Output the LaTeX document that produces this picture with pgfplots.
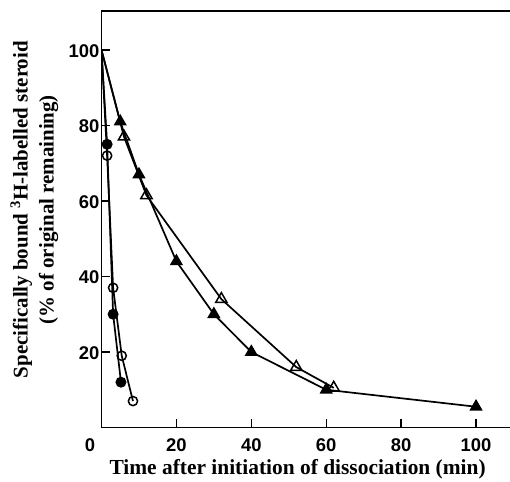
\documentclass[border=0pt]{standalone}
\usepackage{fontspec}
\setmainfont{Liberation Serif}
\setsansfont{Liberation Sans}
\usepackage{pgfplots}
\pgfplotsset{compat=1.18}

\begin{document}
\begin{tikzpicture}
\begin{axis}[
    scale only axis,
    width=412bp, height=416.5bp,
    xmin=0, xmax=110, ymin=0, ymax=110.3,
    clip mode=individual,
    axis line style={line width=1.6bp},
    xtick={20,40,...,100}, ytick={20,40,...,100},
    tick pos=left, tick align=inside, major tick length=9bp,
    tick style={line width=1.4bp, black},
    /pgf/number format/assume math mode=true,
    ticklabel style={font=\fontsize{18.5}{22}\sffamily\bfseries},
    xticklabel style={anchor=base, yshift=-23.5bp},
    yticklabel style={xshift=1.5bp, yshift=-1bp},
    xlabel={Time after initiation of dissociation (min)},
    xlabel style={at={(axis description cs:0.476,-0.114)}, anchor=base,
      font=\fontsize{21.5}{24}\selectfont\bfseries},
    ylabel={Specifically bound \textsuperscript{3}H-labelled steroid\\(\% of original remaining)},
    ylabel style={at={(axis description cs:-0.163,0.523)}, anchor=center, align=center,
      font=\fontsize{21}{26}\selectfont\bfseries},
  ]
  % filled triangles
  \addplot[black, line width=1.7bp, mark=triangle*, mark size=6.5bp,
    mark indices={2,3,...,8}, mark options={fill=black, line width=1.2bp}]
    coordinates {(0,100) (5,81) (10,67) (20,44) (30,30) (40,20) (60,10) (100,5.5)};
  % open triangles
  \addplot[black, line width=1.7bp, mark=triangle, mark size=6.5bp,
    mark indices={2,3,...,7}, mark options={fill=white, line width=1.5bp}]
    coordinates {(0,100) (6,77) (12,61.5) (32,34) (52,16) (62,10.5)};
  % open circles
  \addplot[black, line width=1.7bp, mark=o, mark size=4.6bp,
    mark indices={2,3,4,5}, mark options={fill=white, line width=1.5bp}]
    coordinates {(0,100) (1.5,72) (3.1,37) (5.4,19) (8.4,7)};
  % filled circles
  \addplot[black, line width=1.7bp, mark=*, mark size=4.6bp,
    mark indices={2,3,4}, mark options={fill=black}]
    coordinates {(0,100) (1.5,75) (3.1,30) (5.2,12)};
  \node[font=\fontsize{18.5}{22}\sffamily\bfseries, anchor=base,
    xshift=-11.5bp, yshift=-23.5bp] at (axis cs:0,0) {0};
\end{axis}
\pgfresetboundingbox
\path[use as bounding box] (-101.5bp,-54.5bp) rectangle (408.5bp,427.5bp);
\end{tikzpicture}
\end{document}
